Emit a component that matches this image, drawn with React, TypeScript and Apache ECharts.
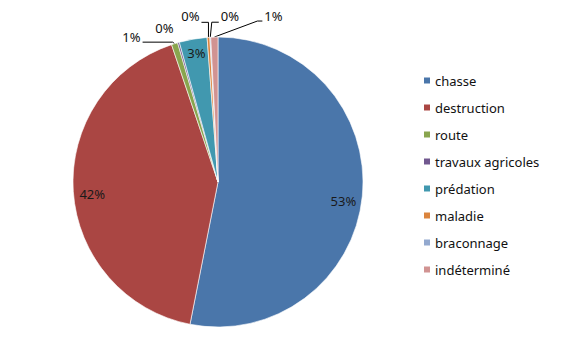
import React, { useEffect, useRef } from "react";
import * as echarts from "echarts";

const categories = ["chasse", "destruction", "route", "travaux agricoles", "prédation", "maladie", "braconnage", "indéterminé"];
const values = [53.2, 41.8, 0.7, 0.2, 3.1, 0.3, 0.1, 0.8];
const colors = ["#4A76AA", "#AA4643", "#89A54E", "#71588F", "#4198AF", "#DB843D", "#93A9CF", "#D19392"];
const insideLabels = [true, true, false, false, true, false, false, false];

// leader-line layout (offsets relative to the slice edge point computed by ECharts)
const outsideLayout: Record<number, { ex: number; ey: number; h: number; ty: number; line: boolean }> = {
  2: { ex: -2, ey: -1.5, h: -30, ty: -5, line: true },
  3: { ex: -3, ey: -14, h: 0, ty: 0, line: false },
  5: { ex: 0, ey: -15, h: -7, ty: -6, line: true },
  6: { ex: 1.5, ey: -15, h: 7, ty: -6, line: true },
  7: { ex: 43, ey: -16, h: 5, ty: -5, line: true },
};
const insideShift: Record<number, number> = { 0: 7, 1: 4, 4: -5 };

export default function App() {
  const ref = useRef<HTMLDivElement>(null);
  useEffect(() => {
    document.body.style.margin = "0";
    const chart = echarts.init(ref.current!, null, { renderer: "svg" });
    const total = values.reduce((a, b) => a + b, 0);
    const pct = (v: number) => Math.round((v / total) * 100) + "%";
    const font = "'Noto Sans', sans-serif";
    chart.setOption({
      animation: false,
      backgroundColor: "#fff",
      color: colors,
      legend: {
        orient: "vertical",
        left: 417,
        top: 69,
        itemWidth: 8,
        itemHeight: 8,
        itemGap: 14,
        icon: "rect",
        textStyle: { fontFamily: font, fontSize: 13, color: "#111", padding: [0, 0, 0, -1] },
        data: categories,
      },
      series: [
        {
          type: "pie",
          center: [218, 182],
          radius: 145,
          startAngle: 90,
          clockwise: true,
          avoidLabelOverlap: false,
          itemStyle: { borderColor: "#fff", borderWidth: 0.6 },
          label: {
            fontFamily: font,
            fontSize: 13,
            color: "#111",
            formatter: (p: any) => (insideLabels[p.dataIndex] ? "" : pct(p.value)),
          },
          labelLine: { length: 8, length2: 10, lineStyle: { color: "#000", width: 1 } },
          labelLayout: (params: any) => {
            const spec = outsideLayout[params.dataIndex];
            if (!spec || !params.labelLinePoints) return {};
            const e = params.labelLinePoints[0];
            const elbow = [e[0] + spec.ex, e[1] + spec.ey];
            const end = [elbow[0] + spec.h, elbow[1]];
            const dir = spec.h > 0 ? 1 : -1;
            return {
              x: end[0] + dir * 2,
              y: end[1] + spec.ty,
              align: dir > 0 ? "left" : "right",
              verticalAlign: "middle",
              labelLinePoints: [e, elbow, end],
            };
          },
          data: categories.map((name, i) => {
            const spec = outsideLayout[i];
            return {
              name,
              value: values[i],
              label: { show: !insideLabels[i] },
              labelLine: {
                show: !insideLabels[i],
                lineStyle: { opacity: spec && !spec.line ? 0 : 1 },
              },
            };
          }),
        },
        {
          type: "pie",
          center: [218, 182],
          radius: 246,
          startAngle: 90,
          clockwise: true,
          silent: true,
          legendHoverLink: false,
          itemStyle: { color: "rgba(0,0,0,0)" },
          label: {
            position: "inside",
            fontFamily: font,
            fontSize: 13,
            color: "#1a1a1a",
            formatter: (p: any) => (insideLabels[p.dataIndex] ? pct(p.value) : ""),
          },
          labelLayout: (params: any) => ({ dy: insideShift[params.dataIndex] || 0 }),
          labelLine: { show: false },
          data: categories.map((name, i) => ({ name: name + " ", value: values[i] })),
        },
      ],
    });
    return () => chart.dispose();
  }, []);
  return <div ref={ref} style={{ width: 582, height: 363 }} />;
}
